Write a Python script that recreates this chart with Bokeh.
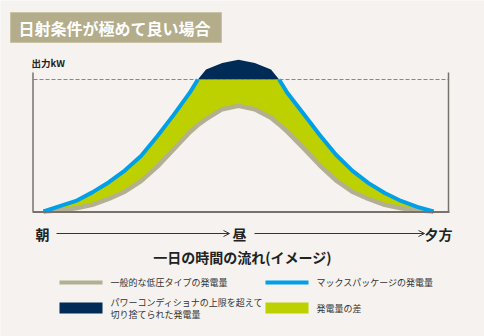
import numpy as np
from bokeh.plotting import figure
from bokeh.models import Range1d, Arrow, OpenHead
from bokeh.core.properties import value
from bokeh.embed import file_html
from bokeh.resources import INLINE

# ---- data (hours of the day, output in % of the inverter limit) ----
hours = [6, 6.5, 7, 7.5, 8, 8.5, 9, 9.5, 10, 10.5, 10.75, 11, 11.5, 12,
         12.5, 13, 13.25, 13.5, 14, 14.5, 15, 15.5, 16, 16.5, 17, 17.5, 18]
max_package = [0, 4, 8, 14.5, 22, 31, 42, 57, 73, 90, 100, 107.5, 112.5, 115,
               112.5, 107.5, 100, 90, 74, 58, 43, 31, 21.5, 14, 8, 3.5, 0]
low_voltage = [0, 1, 2.5, 5, 9.5, 15, 23, 34, 47, 60, 65.5, 70, 77.5, 80,
               77.5, 71, 66, 60.5, 48, 35, 23.5, 15, 9.5, 5, 2.5, 1, 0]
inverter_cap = 100

title_text = "日射条件が極めて良い場合"
y_label = "出力kW"
time_labels = ["朝", "昼", "夕方"]
x_title = "一日の時間の流れ(イメージ)"
legend_labels = ["一般的な低圧タイプの発電量", "マックスパッケージの発電量",
                 "パワーコンディショナの上限を超えて", "切り捨てられた発電量", "発電量の差"]

GRAY = "#b3af91"
BLUE = "#00a0e9"
NAVY = "#002b57"
GREEN = "#bdd000"
BG = "#f5f2ef"
FONT = value("Noto Sans CJK JP")

W, H = 484, 336
# data ranges chosen so that 6h..18h spans the chart area
px_per_h = 32.5
px_per_u = 1.32
x0_px, y0_px = 43, 211
xr = Range1d(6 - x0_px / px_per_h, 18 + (W - 433) / px_per_h)
yr = Range1d(-(H - y0_px) / px_per_u, y0_px / px_per_u)

p = figure(width=W, height=H, x_range=xr, y_range=yr, output_backend="svg",
           toolbar_location=None, x_axis_location=None, y_axis_location=None,
           min_border=0, background_fill_color=BG, border_fill_color=BG,
           outline_line_color=None)
p.grid.visible = False
p.extra_x_ranges = {"px": Range1d(0, W)}
p.extra_y_ranges = {"px": Range1d(H, 0)}

blue = np.array(max_package, dtype=float)
gray = np.array(low_voltage, dtype=float)
clipped = np.minimum(blue, inverter_cap)
over = np.maximum(blue, inverter_cap)
blue_line = np.where(blue <= inverter_cap, blue, np.nan)

# title box
p.quad(left=[10], right=[221], top=[12], bottom=[42], fill_color="#b3ad8b",
       line_color="#c9c4a6", line_width=1, x_range_name="px", y_range_name="px")
p.text(x=[18], y=[27.5], text=[title_text], text_font=FONT, text_font_size="16px",
       text_font_style="bold", text_color="white", text_baseline="middle",
       x_range_name="px", y_range_name="px")

# fills
p.varea(x=hours, y1=gray, y2=clipped, fill_color=GREEN)
p.varea(x=hours, y1=np.full(len(hours), inverter_cap), y2=over, fill_color=NAVY)
p.line(hours, gray, line_color=GRAY, line_width=4.5, line_join="round")
p.line(hours, blue_line, line_color=BLUE, line_width=4, line_join="round")

# inverter limit dashed line
p.line(x=[33, 448], y=[inverter_cap, inverter_cap], line_color="#8a8680",
       line_width=1, line_dash="4 2", x_range_name="px")

# frame
p.segment(x0=[32.5, 448], y0=[72, 72], x1=[32.5, 448], y1=[211, 211],
          line_color="#77726c", line_width=1.5, x_range_name="px", y_range_name="px")
p.segment(x0=[32], y0=[211.5], x1=[449], y1=[211.5],
          line_color="#77726c", line_width=2, x_range_name="px", y_range_name="px")

p.text(x=[31], y=[62], text=[y_label], text_font=FONT, text_font_size="9.5px",
       text_font_style="bold", text_color="#222222", text_baseline="middle",
       x_range_name="px", y_range_name="px")

# time flow
p.text(x=[35, 232, 424], y=[233, 233, 233], text=time_labels, text_font=FONT,
       text_font_size="14px", text_font_style="bold", text_color="#222222",
       text_baseline="middle", x_range_name="px", y_range_name="px")
for xs, xe in [(56, 229), (254, 424)]:
    p.add_layout(Arrow(end=OpenHead(size=6, line_width=1, line_color="#333333"),
                       x_start=xs, y_start=233, x_end=xe, y_end=233,
                       line_color="#333333", line_width=1,
                       x_range_name="px", y_range_name="px"))
p.text(x=[242], y=[256], text=[x_title], text_font=FONT, text_font_size="14px",
       text_font_style="bold", text_color="#222222", text_baseline="middle",
       text_align="center", x_range_name="px", y_range_name="px")

# legend
p.quad(left=[59, 265], right=[102, 308], top=[280, 280], bottom=[284, 284],
       fill_color=[GRAY, BLUE], line_color=None, x_range_name="px", y_range_name="px")
p.quad(left=[59, 265], right=[102, 308], top=[302, 302], bottom=[313, 313],
       fill_color=[NAVY, GREEN], line_color=None, x_range_name="px", y_range_name="px")
p.text(x=[110, 316, 110, 110, 316], y=[282, 282, 301.5, 313.5, 308], text=legend_labels,
       text_font=FONT, text_font_size="9px", text_color="#333333",
       text_baseline="middle", x_range_name="px", y_range_name="px")

open("out.html", "w").write(file_html(p, INLINE))
